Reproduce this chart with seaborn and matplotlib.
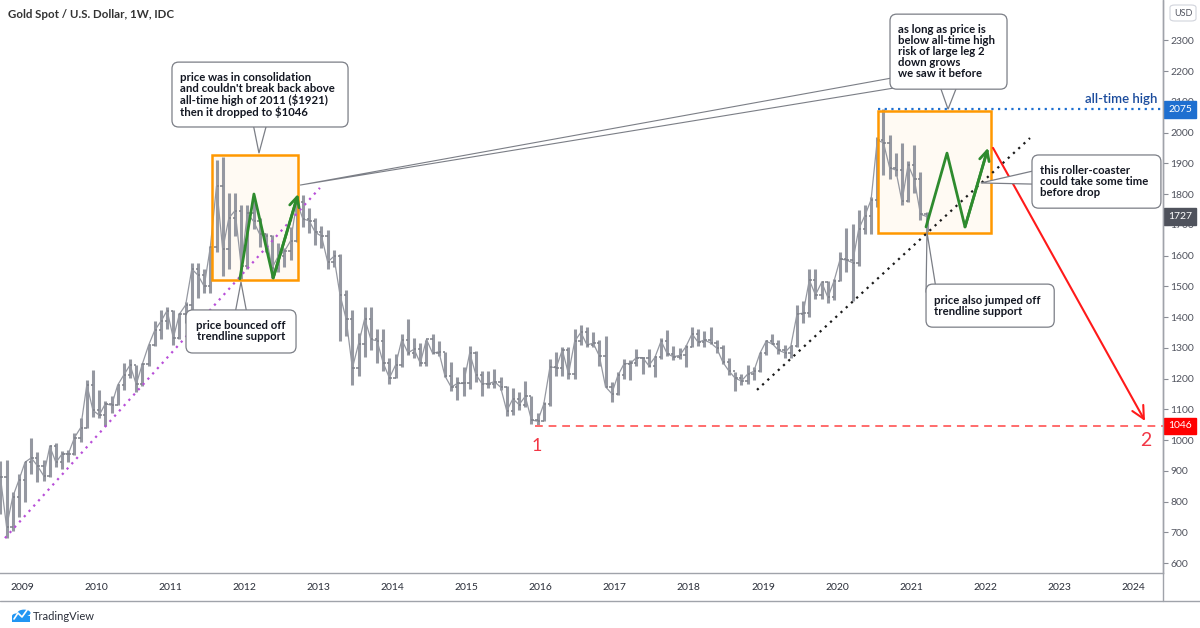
import numpy as np
import pandas as pd
import matplotlib
matplotlib.use("Agg")
import matplotlib.pyplot as plt
import matplotlib.transforms as mtrans
from matplotlib.patches import FancyBboxPatch, Polygon, Rectangle, Circle
from matplotlib.lines import Line2D
import seaborn as sns

# ---------------- data (monthly OHLC) ----------------
start_month = "2008-09-01"
high = [
    933, 934, 830, 889,
    930, 1007, 962, 935, 983, 990, 964, 966, 1024, 1070, 1195, 1227,
    1162, 1127, 1144, 1180, 1249, 1265, 1245, 1250, 1310, 1387, 1424, 1431,
    1424, 1412, 1448, 1575, 1577, 1556, 1632, 1912, 1921, 1803, 1804, 1763,
    1763, 1791, 1721, 1673, 1667, 1640, 1625, 1692, 1790, 1796, 1754, 1723,
    1696, 1684, 1617, 1605, 1487, 1424, 1348, 1434, 1434, 1361, 1362, 1267,
    1280, 1345, 1392, 1331, 1315, 1326, 1345, 1322, 1287, 1255, 1205, 1238,
    1307, 1290, 1224, 1224, 1232, 1205, 1175, 1170, 1157, 1191, 1142, 1088,
    1125, 1263, 1287, 1303, 1303, 1362, 1375, 1367, 1352, 1326, 1337, 1188,
    1220, 1264, 1261, 1295, 1270, 1296, 1274, 1331, 1357, 1306, 1299, 1309,
    1366, 1362, 1356, 1369, 1326, 1309, 1266, 1220, 1214, 1243, 1237, 1284,
    1326, 1346, 1324, 1310, 1306, 1439, 1453, 1555, 1557, 1517, 1516, 1524,
    1611, 1689, 1704, 1747, 1765, 1789, 1984, 2075, 1992, 1933, 1965, 1906,
    1959, 1871, 1740,
]
low = [
    760, 681, 705, 750,
    800, 890, 865, 866, 880, 913, 905, 930, 952, 995, 1040, 1075,
    1070, 1045, 1087, 1114, 1162, 1202, 1155, 1176, 1242, 1307, 1330, 1360,
    1308, 1328, 1381, 1421, 1462, 1477, 1478, 1610, 1532, 1556, 1665, 1523,
    1555, 1687, 1628, 1613, 1527, 1547, 1564, 1586, 1644, 1692, 1672, 1635,
    1626, 1555, 1562, 1321, 1338, 1180, 1208, 1271, 1292, 1251, 1226, 1181,
    1203, 1239, 1277, 1268, 1240, 1240, 1281, 1274, 1206, 1160, 1131, 1142,
    1167, 1190, 1142, 1170, 1170, 1162, 1077, 1080, 1098, 1107, 1052, 1046,
    1061, 1110, 1208, 1208, 1200, 1199, 1310, 1301, 1303, 1241, 1171, 1123,
    1146, 1200, 1195, 1240, 1214, 1236, 1204, 1265, 1272, 1260, 1264, 1236,
    1303, 1307, 1303, 1313, 1282, 1246, 1211, 1160, 1180, 1182, 1196, 1221,
    1276, 1311, 1281, 1266, 1266, 1301, 1382, 1400, 1459, 1458, 1445, 1454,
    1517, 1547, 1451, 1567, 1671, 1671, 1757, 1863, 1849, 1860, 1764, 1775,
    1802, 1717, 1677,
]
close = [
    880, 718, 815, 870,
    928, 942, 916, 884, 979, 927, 955, 955, 1008, 1040, 1180, 1096,
    1081, 1118, 1113, 1179, 1212, 1244, 1181, 1248, 1308, 1357, 1386, 1421,
    1332, 1410, 1439, 1556, 1536, 1500, 1628, 1826, 1620, 1722, 1746, 1565,
    1738, 1711, 1669, 1664, 1560, 1598, 1614, 1648, 1773, 1719, 1713, 1675,
    1663, 1579, 1597, 1472, 1393, 1234, 1313, 1395, 1327, 1323, 1250, 1202,
    1244, 1326, 1284, 1295, 1250, 1327, 1282, 1287, 1208, 1172, 1184, 1184,
    1283, 1213, 1183, 1183, 1190, 1172, 1095, 1134, 1115, 1142, 1065, 1061,
    1117, 1238, 1235, 1293, 1215, 1321, 1350, 1309, 1315, 1273, 1173, 1151,
    1210, 1248, 1249, 1268, 1268, 1242, 1269, 1322, 1280, 1271, 1275, 1303,
    1345, 1318, 1325, 1316, 1299, 1253, 1224, 1201, 1192, 1214, 1223, 1282,
    1321, 1313, 1292, 1284, 1305, 1409, 1413, 1520, 1472, 1513, 1464, 1517,
    1589, 1585, 1577, 1686, 1730, 1781, 1975, 1967, 1886, 1878, 1776, 1895,
    1848, 1734, 1727,
]
first_open = 830
year_ticks = list(range(2009, 2025))
price_ticks = list(range(600, 2400, 100))
ath_price = 2075
low_price = 1046
last_price = 1727
title = "Gold Spot / U.S. Dollar, 1W, IDC"

# ---------------- figure ----------------
sns.set_style("white")
plt.rcParams["font.family"] = ["Lato", "DejaVu Sans"]

W, H = 1200, 628
fig = plt.figure(figsize=(W / 100, H / 100), dpi=100)
ax = fig.add_axes([0, 1 - 573 / H, 1163 / W, 573 / H])

n = min(len(high), len(low), len(close))
dates = pd.date_range(start_month, periods=n, freq="MS")
t = dates.year + (dates.month - 0.5) / 12.0
df = pd.DataFrame({"t": t, "high": high[:n], "low": low[:n], "close": close[:n]})
df["open"] = [first_open] + list(df["close"][:-1])

XMIN, XMAX = 2008.703, 2024.398
YMIN, YMAX = 567.5, 2431
ax.set_xlim(XMIN, XMAX)
ax.set_ylim(YMIN, YMAX)

bar_c = "#9598a1"
w = 0.032
ax.vlines(df["t"], df["low"], df["high"], color=bar_c, lw=2.2, zorder=3)
ax.hlines(df["open"], df["t"] - w, df["t"], color="#7d8089", lw=1.1, zorder=3)
ax.hlines(df["close"], df["t"], df["t"] + w, color="#7d8089", lw=1.1, zorder=3)
# connect closes with a thin line to mimic the dense weekly texture
sns.lineplot(x=df["t"], y=df["close"], ax=ax, color=bar_c, lw=0.9, zorder=2)

# ---------------- axes styling ----------------
for s in ["left", "top"]:
    ax.spines[s].set_visible(False)
for s in ["right", "bottom"]:
    ax.spines[s].set_color("#a0a3aa")
    ax.spines[s].set_linewidth(1.0)
ax.yaxis.tick_right()
ax.set_yticks(price_ticks)
ax.set_yticklabels([str(p) for p in price_ticks])
ax.set_xticks(year_ticks)
ax.set_xticklabels([str(y) for y in year_ticks])
ax.tick_params(axis="y", direction="out", length=3.5, color="#8a8d95", labelsize=7.5,
               labelcolor="#50535e", pad=2, right=True, left=False)
ax.tick_params(axis="x", direction="out", length=3, color="#8a8d95", labelsize=7.5,
               labelcolor="#2a2e39", pad=4)
ax.grid(False)
ax.set_xlabel("")
ax.set_ylabel("")

fig.add_artist(Line2D([0, 1], [1 - 601 / H] * 2, transform=fig.transFigure, color="#a0a3aa", lw=1.0))
fig.add_artist(Line2D([1163 / W] * 2, [1 - 601 / H, 1], transform=fig.transFigure, color="#a0a3aa", lw=1.0))

fig.text(8 / W, 1 - 15 / H, title, va="center", ha="left", fontsize=8.3, color="#333333", weight="bold")

# ---------------- drawings ----------------
txt_c = "#131722"
asp = 74.1 / 0.3075
rnd = 0.09


def callout(x0, x1, p0, p1, text, wedge, align="left", fs=8.2):
    ax.add_patch(Polygon(wedge, closed=True, fc="white", ec="#7b7e86", lw=0.9, zorder=6))
    ax.add_patch(FancyBboxPatch((x0, p0), x1 - x0, p1 - p0,
                                boxstyle=f"round,pad=0,rounding_size={rnd}", mutation_aspect=asp,
                                fc="white", ec="#7b7e86", lw=0.9, zorder=7))
    if align == "center":
        ax.text((x0 + x1) / 2, (p0 + p1) / 2, text, ha="center", va="center", multialignment="center",
                fontsize=fs, color=txt_c, weight="bold", linespacing=1.0, zorder=8)
    else:
        ax.text(x0 + 0.11, (p0 + p1) / 2, text, ha="left", va="center", multialignment="left",
                fontsize=fs, color=txt_c, weight="bold", linespacing=1.0, zorder=8)


# orange boxes
for (bx0, bx1, bp0, bp1) in [(2011.56, 2012.725, 1520, 1927), (2020.552, 2022.077, 1673, 2070)]:
    ax.add_patch(Rectangle((bx0, bp0), bx1 - bx0, bp1 - bp0, fc="#fffaf3", ec="none", zorder=1))
    ax.add_patch(Rectangle((bx0, bp0), bx1 - bx0, bp1 - bp0, fc="none", ec="#ff9800", lw=1.8, zorder=4))

# trendlines
sns.lineplot(x=[2008.77, 2013.02], y=[681, 1820], ax=ax, color="#b84fd8", lw=1.6,
             linestyle=(0, (1, 2.2)), zorder=4)
sns.lineplot(x=[2018.919, 2022.603], y=[1163, 1982], ax=ax, color="#1a1a1a", lw=1.6,
             linestyle=(0, (1, 2.2)), zorder=4)

# all-time high and 2015 low lines
ax.plot([2020.552, XMAX], [ath_price, ath_price], color="#1e6fd0", lw=1.6, ls=(0, (1, 2)), zorder=4)
ax.text(2024.317, 2109, "all-time high", ha="right", va="center", color="#1a4b9c", fontsize=9.5,
        weight="semibold", zorder=5)
ax.plot([2015.92, XMAX], [low_price, low_price], color="#ff6b6b", lw=1.4, ls=(0, (4, 3)), zorder=4)

# green zigzags
green = "#2e8b2e"
for zx, zy in [([2011.94, 2012.13, 2012.39, 2012.725], [1524, 1800, 1527, 1800]),
               ([2021.20, 2021.483, 2021.726, 2022.036], [1693, 1933, 1693, 1950])]:
    sns.lineplot(x=zx[:-1] + [zx[-1] - 0.01], y=zy[:-1] + [zy[-1] - 10], ax=ax, color=green, lw=2.0,
                 sort=False, zorder=5)
    ax.annotate("", xy=(zx[-1], zy[-1]), xytext=(zx[-2], zy[-2]),
                arrowprops=dict(arrowstyle="->,head_length=0.7,head_width=0.35", color=green, lw=2.0,
                                shrinkA=0, shrinkB=0), zorder=5)

# red arrow
ax.annotate("", xy=(2024.155, 1062), xytext=(2022.104, 1950),
            arrowprops=dict(arrowstyle="->,head_length=0.9,head_width=0.45", color="#ff1a1a", lw=1.5,
                            shrinkA=0, shrinkB=0), zorder=5)
ax.text(2015.95, 980, "1", color="#f23645", fontsize=13, ha="center", va="center", zorder=5)
ax.text(2024.168, 1000, "2", color="#f23645", fontsize=14, ha="center", va="center", zorder=5)

# callouts
callout(2011.024, 2013.40, 2018, 2229,
        "price was in consolidation\nand couldn't break back above\nall-time high of 2011 ($1921)\nthen it dropped to $1046",
        [(2012.117, 2030), (2012.198, 1933), (2012.306, 2030)])
callout(2011.213, 2012.698, 1283, 1423, "price bounced off\ntrendline support",
        [(2011.874, 1410), (2011.955, 1514), (2012.036, 1410)], align="center")
ax.add_patch(Polygon([(2020.80, 2180), (2012.752, 1829), (2020.80, 2146)], closed=True,
                     fc="white", ec="#7b7e86", lw=0.8, zorder=6))
callout(2020.714, 2022.293, 2141, 2385,
        "as long as price is\nbelow all-time high\nrisk of large leg 2\ndown grows\nwe saw it before",
        [(2021.389, 2150), (2021.497, 2076), (2021.618, 2150)])
callout(2022.63, 2024.37, 1754, 1927, "this roller-coaster\ncould take some time\nbefore drop",
        [(2022.70, 1878), (2021.94, 1836), (2022.70, 1832)])
callout(2021.20, 2022.93, 1367, 1507, "price also jumped off\ntrendline support",
        [(2021.20, 1480), (2021.213, 1676), (2021.33, 1500)])

# price-axis labels
trans = mtrans.blended_transform_factory(ax.transAxes, ax.transData)
for price, col in [(ath_price, "#1e6fd0"), (last_price, "#4f525c"), (low_price, "#ff0000")]:
    ax.add_patch(Rectangle((1.0008, price - 27), 32 / 1163, 54, transform=trans, fc=col, ec=col,
                           clip_on=False, zorder=10))
    ax.text(1.0008 + 16 / 1163, price, str(price), transform=trans, color="white", ha="center",
            va="center", fontsize=7.5, clip_on=False, zorder=11)

# USD box
fig.add_artist(FancyBboxPatch((1170 / W, 1 - 21 / H), 26 / W, 16 / H,
                              boxstyle="round,pad=0,rounding_size=0.004", transform=fig.transFigure,
                              fc="white", ec="#d1d4dc", lw=0.8))
fig.text(1183 / W, 1 - 13 / H, "USD", ha="center", va="center", fontsize=6.5, color="#50535e")

# TradingView logo
logo_c = "#2196f3"
for cx, cy, r in [(17, 616, 5), (24, 613, 6.5)]:
    fig.add_artist(Circle((cx / W, 1 - cy / H), r / W, transform=fig.transFigure, fc=logo_c, ec="none"))
fig.add_artist(Rectangle((12 / W, 1 - 622 / H), 18 / W, 6 / H, transform=fig.transFigure, fc=logo_c, ec="none"))
fig.add_artist(Line2D([14 / W, 18 / W, 22 / W, 27 / W], [1 - 619 / H, 1 - 613 / H, 1 - 617 / H, 1 - 610 / H],
                      transform=fig.transFigure, color="white", lw=1.2))
fig.text(33 / W, 1 - 616 / H, "TradingView", ha="left", va="center", fontsize=8, color="#2a2e39")

fig.savefig("out.png", dpi=100)
